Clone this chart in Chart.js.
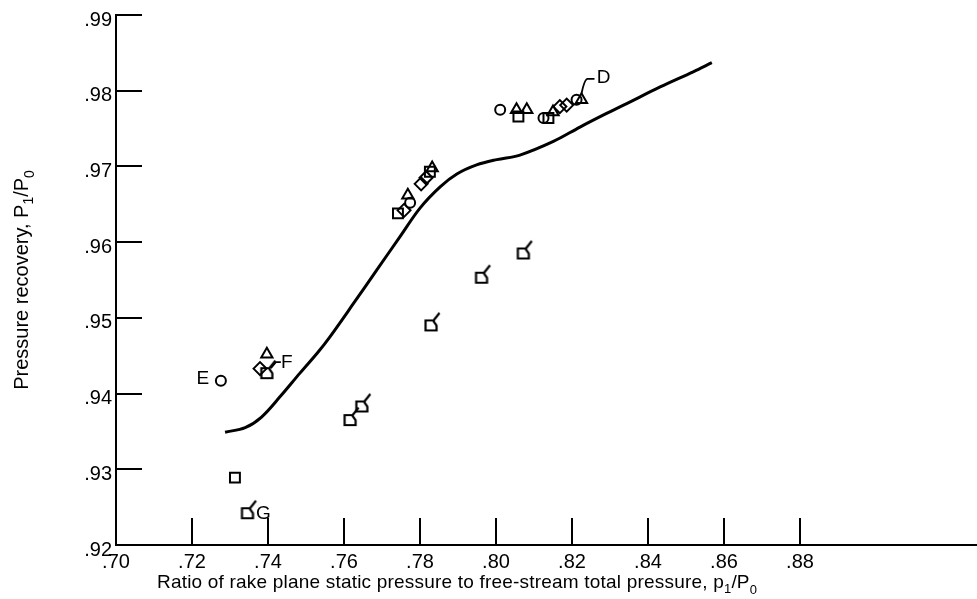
<!DOCTYPE html>
<html>
<head>
<meta charset="utf-8">
<title>Pressure recovery</title>
<script src="https://cdn.jsdelivr.net/npm/chart.js@4.4.1/dist/chart.umd.min.js"></script>
<style>
  html, body { margin: 0; padding: 0; background: #fff; overflow: hidden; }
  #wrap { width: 977px; height: 599px; position: relative; }
</style>
</head>
<body>
<div id="wrap"><canvas id="chart" width="977" height="599"></canvas></div>
<script>
// Axis ticks
const xTickValues = [0.70, 0.72, 0.74, 0.76, 0.78, 0.80, 0.82, 0.84, 0.86, 0.88];
const yTickValues = [0.92, 0.93, 0.94, 0.95, 0.96, 0.97, 0.98, 0.99];

// Faired curve
const curveX = [0.7287, 0.7340, 0.7383, 0.7432, 0.7484, 0.7532, 0.7563, 0.7625, 0.7686, 0.7747,
                0.7800, 0.7853, 0.7897, 0.7949, 0.8002, 0.8063, 0.8151, 0.8221, 0.8291,
                0.8344, 0.8432, 0.8519, 0.8568];
const curveY = [0.9349, 0.9355, 0.9369, 0.9396, 0.9427, 0.9455, 0.9475, 0.9519, 0.9563, 0.9607,
                0.9645, 0.9673, 0.9690, 0.9702, 0.9709, 0.9715, 0.9733, 0.9752, 0.9770,
                0.9783, 0.9805, 0.9825, 0.9837];

// Measured points by symbol
const circleX = [0.7276, 0.7774, 0.8011, 0.8125, 0.8212];
const circleY = [0.9417, 0.9652, 0.9775, 0.9764, 0.9788];

const squareX = [0.7313, 0.7742, 0.7826, 0.8059, 0.8138];
const squareY = [0.9289, 0.9638, 0.9693, 0.9766, 0.9764];

const triangleX = [0.7397, 0.7768, 0.7832, 0.8054, 0.8081, 0.8150, 0.8225];
const triangleY = [0.9452, 0.9662, 0.9698, 0.9775, 0.9775, 0.9772, 0.9788];

const diamondX = [0.7379, 0.7758, 0.7803, 0.7816, 0.8168, 0.8186];
const diamondY = [0.9433, 0.9642, 0.9677, 0.9685, 0.9779, 0.9781];

const flagX = [0.7346, 0.7397, 0.7616, 0.7647, 0.7829, 0.7962, 0.8072];
const flagY = [0.9242, 0.9427, 0.9365, 0.9383, 0.9490, 0.9553, 0.9585];

// Point labels: letter, symbol set, index in that set
const pointLabels = [
  { text: 'E', set: 'circle', index: 0 },
  { text: 'F', set: 'flag', index: 1 },
  { text: 'G', set: 'flag', index: 0 },
  { text: 'D', set: 'triangle', index: 6 }
];

const FONT = '"Liberation Sans", Arial, sans-serif';
const INK = '#000';

const zip = (xs, ys) => xs.map((x, i) => ({ x: x, y: ys[i] }));

// Open square with a slanted flag
function flagSymbol() {
  const c = document.createElement('canvas');
  c.width = 30; c.height = 30;
  const g = c.getContext('2d');
  g.translate(15, 15);
  g.strokeStyle = INK;
  g.lineWidth = 2.2;
  g.lineJoin = 'miter';
  g.beginPath();
  g.moveTo(-5.5, -5);
  g.lineTo(2, -5);
  g.lineTo(5.5, 0);
  g.lineTo(5.5, 5);
  g.lineTo(-5.5, 5);
  g.closePath();
  g.stroke();
  g.beginPath();
  g.moveTo(2.5, -5);
  g.lineTo(8.5, -12.5);
  g.stroke();
  return c;
}

const sets = {
  circle: zip(circleX, circleY),
  square: zip(squareX, squareY),
  triangle: zip(triangleX, triangleY),
  diamond: zip(diamondX, diamondY),
  flag: zip(flagX, flagY)
};

function markerSet(data, style, radius) {
  return {
    data: data,
    showLine: false,
    pointStyle: style,
    pointRadius: radius,
    pointHoverRadius: radius,
    pointBorderWidth: 2,
    pointBorderColor: INK,
    pointBackgroundColor: 'rgba(0,0,0,0)'
  };
}

// Tick marks pointing into the plot
const innerTicks = {
  id: 'innerTicks',
  afterDatasetsDraw(chart) {
    const { ctx, scales: { x, y } } = chart;
    ctx.save();
    ctx.strokeStyle = INK;
    ctx.lineWidth = 2;
    xTickValues.forEach(v => {
      const px = Math.round(x.getPixelForValue(v));
      ctx.beginPath();
      ctx.moveTo(px, x.top);
      ctx.lineTo(px, x.top - 27);
      ctx.stroke();
    });
    yTickValues.forEach(v => {
      const py = Math.round(y.getPixelForValue(v));
      ctx.beginPath();
      ctx.moveTo(y.right, py);
      ctx.lineTo(y.right + 26, py);
      ctx.stroke();
    });
    ctx.restore();
  }
};

// Axis titles with subscripts, and the lettered callouts
function drawRuns(ctx, runs, x, y) {
  let cx = x;
  runs.forEach(r => {
    ctx.font = r.size + 'px ' + FONT;
    ctx.fillText(r.t, cx, y + (r.dy || 0));
    cx += ctx.measureText(r.t).width;
  });
  return cx - x;
}
function runsWidth(ctx, runs) {
  let w = 0;
  runs.forEach(r => { ctx.font = r.size + 'px ' + FONT; w += ctx.measureText(r.t).width; });
  return w;
}

const annotations = {
  id: 'annotations',
  afterDatasetsDraw(chart) {
    const { ctx, scales: { x, y } } = chart;
    ctx.save();
    ctx.fillStyle = INK;
    ctx.strokeStyle = INK;
    ctx.textBaseline = 'alphabetic';
    ctx.textAlign = 'left';

    // x title
    const xRuns = [
      { t: 'Ratio of rake plane static pressure to free-stream total pressure, p', size: 19 },
      { t: '1', size: 13, dy: 5 },
      { t: '/P', size: 19 },
      { t: '0', size: 13, dy: 6 }
    ];
    ctx.save();
    ctx.letterSpacing = '0.2px';
    drawRuns(ctx, xRuns, 157, 588);
    ctx.restore();

    // y title
    const yRuns = [
      { t: 'Pressure recovery, P', size: 20 },
      { t: '1', size: 14, dy: 5 },
      { t: '/P', size: 20 },
      { t: '0', size: 14, dy: 6 }
    ];
    const yc = (y.top + y.bottom) / 2;
    ctx.save();
    ctx.translate(28, yc);
    ctx.rotate(-Math.PI / 2);
    drawRuns(ctx, yRuns, -runsWidth(ctx, yRuns) / 2, 0);
    ctx.restore();

    // lettered callouts
    ctx.font = '19px ' + FONT;
    ctx.lineWidth = 1.8;
    ctx.textBaseline = 'middle';
    ctx.textAlign = 'center';
    pointLabels.forEach(l => {
      const p = sets[l.set][l.index];
      const px = x.getPixelForValue(p.x);
      const py = y.getPixelForValue(p.y);
      if (l.text === 'E') {
        ctx.fillText('E', px - 18, py - 2);
      } else if (l.text === 'F') {
        ctx.beginPath();
        ctx.moveTo(px + 4, py - 5);
        ctx.lineTo(px + 9, py - 11);
        ctx.lineTo(px + 14, py - 11);
        ctx.stroke();
        ctx.fillText('F', px + 20, py - 10);
      } else if (l.text === 'G') {
        ctx.fillText('G', px + 16, py + 1);
      } else if (l.text === 'D') {
        ctx.beginPath();
        ctx.moveTo(px, py - 6);
        ctx.quadraticCurveTo(px + 3, py - 21, px + 6, py - 21);
        ctx.lineTo(px + 13, py - 21);
        ctx.stroke();
        ctx.fillText('D', px + 22, py - 22);
      }
    });
    ctx.restore();
  }
};

const tickFont = { family: FONT, size: 20 };
const fmt = v => '.' + Math.round(v * 100);

new Chart(document.getElementById('chart'), {
  type: 'scatter',
  data: {
    datasets: [
      {
        data: zip(curveX, curveY),
        showLine: true,
        borderColor: INK,
        borderWidth: 3,
        pointRadius: 0,
        pointHoverRadius: 0,
        fill: false,
        tension: 0.35
      },
      markerSet(sets.circle, 'circle', 5),
      markerSet(sets.square, 'rect', 7),
      markerSet(sets.triangle, 'triangle', 6.5),
      markerSet(sets.diamond, 'rectRot', 6.5),
      markerSet(sets.flag, flagSymbol(), 6)
    ]
  },
  options: {
    responsive: false,
    animation: false,
    devicePixelRatio: 1,
    layout: { autoPadding: false, padding: { top: 15, left: 0, right: 0, bottom: 0 } },
    plugins: {
      legend: { display: false },
      tooltip: { enabled: false },
      title: { display: false }
    },
    scales: {
      x: {
        type: 'linear',
        min: 0.70,
        max: 0.92658,
        afterBuildTicks: s => { s.ticks = xTickValues.map(v => ({ value: v })); },
        afterFit: s => { s.height = 54; s.paddingLeft = 0; s.paddingRight = 0; },
        grid: { drawOnChartArea: false, drawTicks: false },
        border: { display: true, color: INK, width: 2 },
        ticks: {
          color: INK,
          font: tickFont,
          padding: 5,
          maxRotation: 0,
          autoSkip: false,
          callback: fmt
        }
      },
      y: {
        type: 'linear',
        min: 0.92,
        max: 0.99,
        afterBuildTicks: s => { s.ticks = yTickValues.map(v => ({ value: v })); },
        afterFit: s => { s.width = 116; s.paddingTop = 0; s.paddingBottom = 0; },
        grid: { drawOnChartArea: false, drawTicks: false },
        border: { display: true, color: INK, width: 2 },
        ticks: {
          color: INK,
          font: tickFont,
          padding: 4,
          labelOffset: 5,
          autoSkip: false,
          callback: fmt
        }
      }
    }
  },
  plugins: [innerTicks, annotations]
});
</script>
</body>
</html>
